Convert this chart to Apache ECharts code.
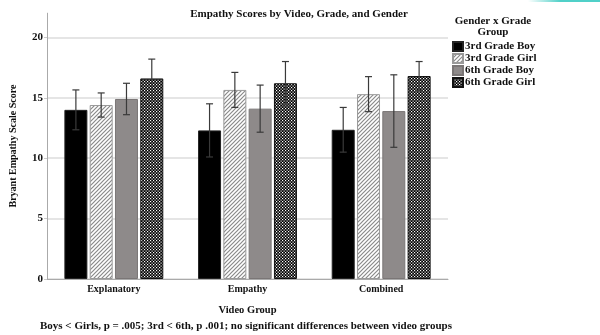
<!DOCTYPE html>
<html>
<head>
<meta charset="utf-8">
<script src="https://cdn.jsdelivr.net/npm/echarts@6/dist/echarts.min.js"></script>
<style>
  html, body { margin: 0; padding: 0; background: #fff; }
  #chart { width: 600px; height: 335px; }
</style>
</head>
<body>
<div id="chart"></div>
<script>
// Video groups on the x axis
const categories = ['Explanatory', 'Empathy', 'Combined'];

// Mean Bryant Empathy Scale scores and error bar half-widths per group
const boy3 = [14.0, 12.3, 12.35];
const boy3Err = [1.65, 2.2, 1.85];
const girl3 = [14.4, 15.65, 15.3];
const girl3Err = [1.0, 1.45, 1.45];
const boy6 = [14.9, 14.1, 13.9];
const boy6Err = [1.3, 1.95, 3.0];
const girl6 = [16.6, 16.2, 16.8];
const girl6Err = [1.6, 1.8, 1.2];

const seriesNames = ['3rd Grade Boy', '3rd Grade Girl', '6th Grade Boy', '6th Grade Girl'];
const yTicks = [0, 5, 10, 15, 20];

const FONT = '"Liberation Serif", "DejaVu Serif", serif';

// Hatched fill: thin diagonal gray strokes on white
function stripePattern() {
  const c = document.createElement('canvas');
  c.width = 4; c.height = 4;
  const g = c.getContext('2d');
  g.fillStyle = '#ffffff';
  g.fillRect(0, 0, 4, 4);
  g.strokeStyle = '#8a8a8a';
  g.lineWidth = 1.2;
  g.beginPath();
  g.moveTo(-1, 5); g.lineTo(5, -1);
  g.moveTo(-1, 1); g.lineTo(1, -1);
  g.moveTo(3, 5); g.lineTo(5, 3);
  g.stroke();
  return c;
}

// Small checkerboard, black-dominant with white dots
function checkerPattern() {
  const c = document.createElement('canvas');
  c.width = 6; c.height = 6;
  const g = c.getContext('2d');
  g.fillStyle = '#000000';
  g.fillRect(0, 0, 6, 6);
  g.fillStyle = '#ffffff';
  const s = 1.5;
  for (let r = 0; r < 4; r++) {
    for (let col = 0; col < 4; col++) {
      if ((r + col) % 2 === 0) g.fillRect(col * s, r * s, s * 0.8, s * 0.8);
    }
  }
  return c;
}

const fills = [
  { color: '#000000', border: '#222222' },
  { color: { image: stripePattern(), repeat: 'repeat' }, border: '#9a9a9a' },
  { color: '#8e8a8a', border: '#7a7676' },
  { color: { image: checkerPattern(), repeat: 'repeat' }, border: '#111111' }
];

const means = [boy3, girl3, boy6, girl6];
const errs = [boy3Err, girl3Err, boy6Err, girl6Err];

const BAR_W = 23;
const BAR_GAP = 2.3;

const barSeries = means.map((vals, i) => ({
  name: seriesNames[i],
  type: 'bar',
  data: vals,
  barWidth: BAR_W,
  barGap: '10%',
  itemStyle: { color: fills[i].color, borderColor: fills[i].border, borderWidth: 1 },
  emphasis: { disabled: true },
  z: 2
}));

// Error bars with caps, aligned to each bar's slot within the category
const errSeries = means.map((vals, i) => ({
  name: seriesNames[i] + ' error',
  type: 'custom',
  z: 5,
  silent: true,
  data: vals.map((v, k) => [k, v - errs[i][k], v + errs[i][k]]),
  renderItem: function (params, api) {
    const k = api.value(0);
    const lo = api.coord([k, api.value(1)]);
    const hi = api.coord([k, api.value(2)]);
    const x = lo[0] + (i - 1.5) * (BAR_W + BAR_GAP);
    const cap = 3.5;
    const style = { stroke: '#3a3a3a', lineWidth: 1.2 };
    return {
      type: 'group',
      children: [
        { type: 'line', shape: { x1: x, y1: lo[1], x2: x, y2: hi[1] }, style },
        { type: 'line', shape: { x1: x - cap, y1: hi[1], x2: x + cap, y2: hi[1] }, style },
        { type: 'line', shape: { x1: x - cap, y1: lo[1], x2: x + cap, y2: lo[1] }, style }
      ]
    };
  }
}));

const chart = echarts.init(document.getElementById('chart'), null, { renderer: 'canvas' });

chart.setOption({
  animation: false,
  backgroundColor: '#ffffff',
  textStyle: { fontFamily: FONT },
  title: [
    {
      text: 'Empathy Scores by Video, Grade, and Gender',
      left: 299, top: 9, textAlign: 'center', padding: 0,
      textStyle: { fontFamily: FONT, fontSize: 11, fontWeight: 'bold', color: '#111' }
    },
    {
      text: 'Gender x Grade\nGroup',
      left: 493, top: 16, textAlign: 'center', padding: 0,
      textStyle: { fontFamily: FONT, fontSize: 11, fontWeight: 'bold', color: '#111', lineHeight: 11 }
    },
    {
      text: 'Boys < Girls, p = .005; 3rd < 6th, p .001; no significant differences between video groups',
      left: 40, top: 321, padding: 0,
      textStyle: { fontFamily: FONT, fontSize: 11, fontWeight: 'bold', color: '#111' }
    }
  ],
  legend: {
    orient: 'vertical',
    left: 452, top: 41, padding: 0,
    icon: 'rect',
    itemWidth: 10, itemHeight: 9, itemGap: 1,
    data: seriesNames,
    selectedMode: false,
    textStyle: { fontFamily: FONT, fontSize: 11, fontWeight: 'bold', color: '#111', lineHeight: 11, padding: [0, 0, 0, -3] }
  },
  grid: { left: 46, right: 152, top: 13.2, bottom: 56 },
  xAxis: {
    type: 'category',
    data: categories,
    name: 'Video Group',
    nameLocation: 'middle',
    nameGap: 26,
    nameTextStyle: { fontFamily: FONT, fontSize: 10.5, fontWeight: 'bold', color: '#111' },
    axisLine: { lineStyle: { color: '#aaaaaa', width: 1 } },
    axisTick: { show: false },
    axisLabel: { fontFamily: FONT, fontSize: 10, fontWeight: 'bold', color: '#111', margin: 5 }
  },
  yAxis: {
    type: 'value',
    min: 0, max: 22, interval: 5,
    name: 'Bryant Empathy Scale Score',
    nameLocation: 'middle',
    nameGap: 29,
    nameTextStyle: { fontFamily: FONT, fontSize: 10, fontWeight: 'bold', color: '#111' },
    axisLine: { show: true, lineStyle: { color: '#aaaaaa', width: 1 } },
    axisTick: { show: true, length: 3, lineStyle: { color: '#cccccc' } },
    axisLabel: {
      showMaxLabel: false,
      fontFamily: FONT, fontSize: 11, fontWeight: 'bold', color: '#111', margin: 4,
      formatter: v => (yTicks.indexOf(v) >= 0 ? String(v) : '')
    },
    splitLine: { show: true, lineStyle: { color: ['#dcdcdc', '#dcdcdc', '#dcdcdc', '#dcdcdc', '#dcdcdc', 'rgba(0,0,0,0)'], width: 1.5 } }
  },
  graphic: [
    {
      type: 'rect', left: 528, top: 0, shape: { width: 72, height: 2 },
      style: {
        fill: new echarts.graphic.LinearGradient(0, 0, 1, 0, [
          { offset: 0, color: 'rgba(80,208,200,0)' },
          { offset: 0.45, color: 'rgba(80,208,200,1)' },
          { offset: 1, color: 'rgba(80,208,200,1)' }
        ])
      }
    }
  ],
  series: barSeries.concat(errSeries)
});
</script>
</body>
</html>
